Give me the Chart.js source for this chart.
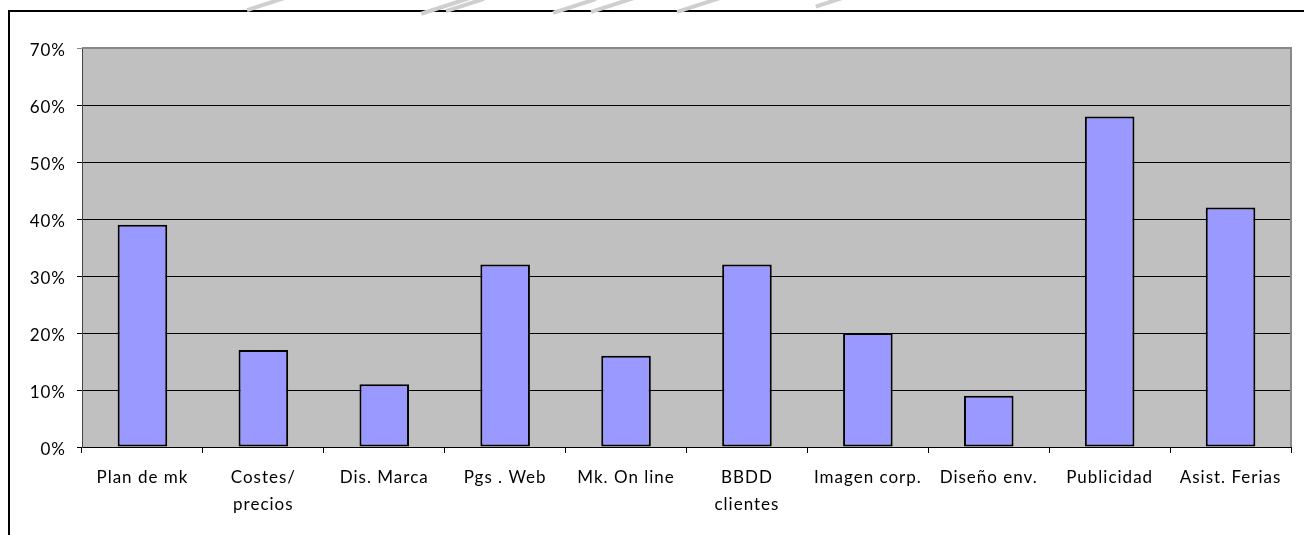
<!doctype html>
<html><head><meta charset="utf-8">
<title>Chart</title>
<script src="https://cdn.jsdelivr.net/npm/chart.js"></script>
<style>
  html, body { margin: 0; padding: 0; background: #fff; }
  #wrap { position: relative; width: 1304px; height: 535px; overflow: hidden; }
  #frame { position: absolute; left: 8px; top: 10px; width: 1310px; height: 540px;
    border-top: 2px solid #000; border-left: 2px solid #000; pointer-events: none; }
  .mark { position: absolute; height: 4px; background: #cfcfcf; transform: rotate(-18deg); }
  canvas { position: absolute; left: 0; top: 0; }
</style>
</head><body>
<div id="wrap">
  <canvas id="c" width="1304" height="535"></canvas>
  <div id="frame"></div>
  <div class="mark" style="left:246px;top:2px;width:40px"></div>
  <div class="mark" style="left:420px;top:4px;width:50px"></div>
  <div class="mark" style="left:445px;top:3px;width:40px"></div>
  <div class="mark" style="left:552px;top:4px;width:45px"></div>
  <div class="mark" style="left:590px;top:3px;width:45px"></div>
  <div class="mark" style="left:676px;top:3px;width:45px"></div>
  <div class="mark" style="left:815px;top:0px;width:30px"></div>
</div>
<script>
const categories = [
  "Plan de mk", ["Costes/", "precios"], "Dis. Marca", "Pgs . Web", "Mk. On line",
  ["BBDD", "clientes"], "Imagen corp.", "Diseño env.", "Publicidad", "Asist. Ferias"
];
const values = [39, 17, 11, 32, 16, 32, 20, 9, 58, 42];
const yTicks = [0, 10, 20, 30, 40, 50, 60, 70];

// gray plot area + gray frame on top/right
const plotFrame = {
  id: 'plotFrame',
  beforeDraw(chart) {
    const a = chart.chartArea, ctx = chart.ctx;
    ctx.save();
    ctx.fillStyle = '#c0c0c0';
    ctx.fillRect(a.left, a.top, a.right - a.left, a.bottom - a.top);
    ctx.restore();
  },
  afterDatasetsDraw(chart) {
    const a = chart.chartArea, ctx = chart.ctx;
    ctx.save();
    ctx.strokeStyle = '#888';
    ctx.lineWidth = 2;
    ctx.beginPath();
    ctx.moveTo(a.left, a.top);
    ctx.lineTo(a.right, a.top);
    ctx.lineTo(a.right, a.bottom);
    ctx.stroke();
    ctx.restore();
  }
};

// wider letter spacing, like the original's text
const spacing = {
  id: 'spacing',
  beforeDraw(chart) { chart.ctx.letterSpacing = '1px'; },
  afterDraw(chart) { chart.ctx.letterSpacing = '0px'; }
};

new Chart(document.getElementById('c'), {
  type: 'bar',
  data: {
    labels: categories,
    datasets: [{
      data: values,
      backgroundColor: '#9999ff',
      borderColor: '#000',
      borderWidth: 2,
      borderSkipped: false,
      barPercentage: 1,
      categoryPercentage: 0.41
    }]
  },
  options: {
    responsive: false,
    animation: false,
    layout: { padding: { top: 48, right: 13, left: 0, bottom: 0 } },
    plugins: { legend: { display: false }, tooltip: { enabled: false } },
    scales: {
      x: {
        grid: { offset: true, drawOnChartArea: false, drawTicks: true, tickLength: 6, color: '#000' },
        border: { color: '#000', width: 1 },
        ticks: { color: '#000', font: { family: 'Lato', size: 17, lineHeight: 1.58 }, padding: 11, maxRotation: 0, autoSkip: false },
        afterFit(s) { s.height = 88; }
      },
      y: {
        min: 0, max: 70,
        afterBuildTicks(s) { s.ticks = yTicks.map(v => ({ value: v })); },
        grid: {
          color: c => c.tick && c.tick.value === 70 ? '#888' : '#000',
          lineWidth: 1, tickLength: 5
        },
        border: { color: '#444', width: 1 },
        ticks: { color: '#000', font: { family: 'Lato', size: 17 }, padding: 11, labelOffset: 3, callback: v => v + '%' },
        afterFit(s) { s.width = 82; }
      }
    }
  },
  plugins: [spacing, plotFrame]
});
</script>
</body></html>
